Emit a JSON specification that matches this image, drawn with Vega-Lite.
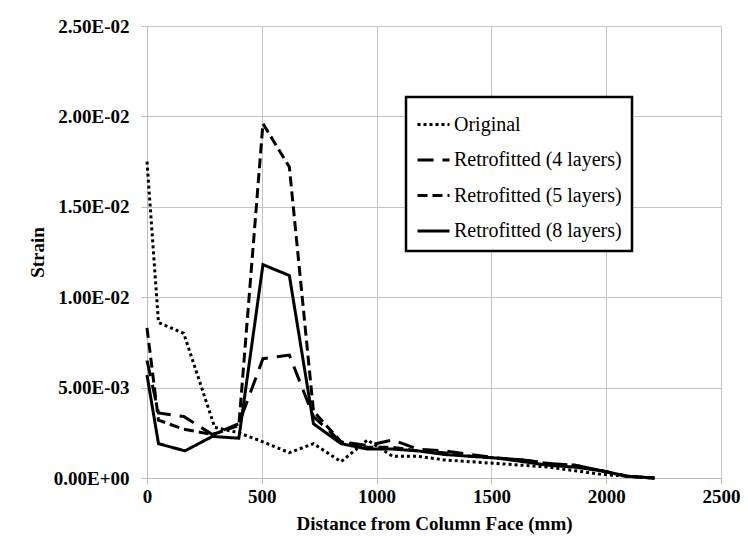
{
  "$schema": "https://vega.github.io/schema/vega-lite/v6.json",
  "width": 574,
  "height": 452,
  "autosize": {"type": "none"},
  "padding": {"left": 147, "top": 26, "right": 27, "bottom": 69},
  "background": "white",
  "data": {
    "values": [
      {"distance": 0, "strain": 0.0175, "series": "Original"},
      {"distance": 50, "strain": 0.0086, "series": "Original"},
      {"distance": 160, "strain": 0.0080, "series": "Original"},
      {"distance": 295, "strain": 0.0028, "series": "Original"},
      {"distance": 400, "strain": 0.0025, "series": "Original"},
      {"distance": 505, "strain": 0.0020, "series": "Original"},
      {"distance": 620, "strain": 0.0014, "series": "Original"},
      {"distance": 725, "strain": 0.0019, "series": "Original"},
      {"distance": 845, "strain": 0.0009, "series": "Original"},
      {"distance": 960, "strain": 0.0021, "series": "Original"},
      {"distance": 1070, "strain": 0.0012, "series": "Original"},
      {"distance": 1180, "strain": 0.0012, "series": "Original"},
      {"distance": 1295, "strain": 0.0010, "series": "Original"},
      {"distance": 1410, "strain": 0.0009, "series": "Original"},
      {"distance": 1525, "strain": 0.0008, "series": "Original"},
      {"distance": 1640, "strain": 0.0007, "series": "Original"},
      {"distance": 1750, "strain": 0.0006, "series": "Original"},
      {"distance": 1865, "strain": 0.0004, "series": "Original"},
      {"distance": 1980, "strain": 0.0002, "series": "Original"},
      {"distance": 2090, "strain": 0.0001, "series": "Original"},
      {"distance": 2210, "strain": 0.0000, "series": "Original"},

      {"distance": 0, "strain": 0.0065, "series": "Retrofitted (4 layers)"},
      {"distance": 50, "strain": 0.0036, "series": "Retrofitted (4 layers)"},
      {"distance": 160, "strain": 0.0034, "series": "Retrofitted (4 layers)"},
      {"distance": 285, "strain": 0.0024, "series": "Retrofitted (4 layers)"},
      {"distance": 400, "strain": 0.0030, "series": "Retrofitted (4 layers)"},
      {"distance": 505, "strain": 0.0066, "series": "Retrofitted (4 layers)"},
      {"distance": 620, "strain": 0.0068, "series": "Retrofitted (4 layers)"},
      {"distance": 725, "strain": 0.0034, "series": "Retrofitted (4 layers)"},
      {"distance": 845, "strain": 0.0020, "series": "Retrofitted (4 layers)"},
      {"distance": 960, "strain": 0.0018, "series": "Retrofitted (4 layers)"},
      {"distance": 1070, "strain": 0.0021, "series": "Retrofitted (4 layers)"},
      {"distance": 1180, "strain": 0.0016, "series": "Retrofitted (4 layers)"},
      {"distance": 1295, "strain": 0.0015, "series": "Retrofitted (4 layers)"},
      {"distance": 1410, "strain": 0.0013, "series": "Retrofitted (4 layers)"},
      {"distance": 1525, "strain": 0.0011, "series": "Retrofitted (4 layers)"},
      {"distance": 1640, "strain": 0.0010, "series": "Retrofitted (4 layers)"},
      {"distance": 1750, "strain": 0.0008, "series": "Retrofitted (4 layers)"},
      {"distance": 1865, "strain": 0.0007, "series": "Retrofitted (4 layers)"},
      {"distance": 1980, "strain": 0.0004, "series": "Retrofitted (4 layers)"},
      {"distance": 2090, "strain": 0.0001, "series": "Retrofitted (4 layers)"},
      {"distance": 2210, "strain": 0.0000, "series": "Retrofitted (4 layers)"},

      {"distance": 0, "strain": 0.0083, "series": "Retrofitted (5 layers)"},
      {"distance": 50, "strain": 0.0032, "series": "Retrofitted (5 layers)"},
      {"distance": 160, "strain": 0.0027, "series": "Retrofitted (5 layers)"},
      {"distance": 285, "strain": 0.0024, "series": "Retrofitted (5 layers)"},
      {"distance": 400, "strain": 0.0029, "series": "Retrofitted (5 layers)"},
      {"distance": 505, "strain": 0.0196, "series": "Retrofitted (5 layers)"},
      {"distance": 620, "strain": 0.0172, "series": "Retrofitted (5 layers)"},
      {"distance": 725, "strain": 0.0037, "series": "Retrofitted (5 layers)"},
      {"distance": 845, "strain": 0.0020, "series": "Retrofitted (5 layers)"},
      {"distance": 960, "strain": 0.0017, "series": "Retrofitted (5 layers)"},
      {"distance": 1070, "strain": 0.0017, "series": "Retrofitted (5 layers)"},
      {"distance": 1180, "strain": 0.0015, "series": "Retrofitted (5 layers)"},
      {"distance": 1295, "strain": 0.0014, "series": "Retrofitted (5 layers)"},
      {"distance": 1410, "strain": 0.0012, "series": "Retrofitted (5 layers)"},
      {"distance": 1525, "strain": 0.0011, "series": "Retrofitted (5 layers)"},
      {"distance": 1640, "strain": 0.0010, "series": "Retrofitted (5 layers)"},
      {"distance": 1750, "strain": 0.0008, "series": "Retrofitted (5 layers)"},
      {"distance": 1865, "strain": 0.0007, "series": "Retrofitted (5 layers)"},
      {"distance": 1980, "strain": 0.0004, "series": "Retrofitted (5 layers)"},
      {"distance": 2090, "strain": 0.0001, "series": "Retrofitted (5 layers)"},
      {"distance": 2210, "strain": 0.0000, "series": "Retrofitted (5 layers)"},

      {"distance": 0, "strain": 0.0057, "series": "Retrofitted (8 layers)"},
      {"distance": 50, "strain": 0.0019, "series": "Retrofitted (8 layers)"},
      {"distance": 165, "strain": 0.0015, "series": "Retrofitted (8 layers)"},
      {"distance": 285, "strain": 0.0023, "series": "Retrofitted (8 layers)"},
      {"distance": 400, "strain": 0.0022, "series": "Retrofitted (8 layers)"},
      {"distance": 505, "strain": 0.0118, "series": "Retrofitted (8 layers)"},
      {"distance": 620, "strain": 0.0112, "series": "Retrofitted (8 layers)"},
      {"distance": 725, "strain": 0.0030, "series": "Retrofitted (8 layers)"},
      {"distance": 845, "strain": 0.0019, "series": "Retrofitted (8 layers)"},
      {"distance": 960, "strain": 0.0016, "series": "Retrofitted (8 layers)"},
      {"distance": 1070, "strain": 0.0016, "series": "Retrofitted (8 layers)"},
      {"distance": 1180, "strain": 0.0015, "series": "Retrofitted (8 layers)"},
      {"distance": 1295, "strain": 0.0013, "series": "Retrofitted (8 layers)"},
      {"distance": 1410, "strain": 0.0012, "series": "Retrofitted (8 layers)"},
      {"distance": 1525, "strain": 0.0011, "series": "Retrofitted (8 layers)"},
      {"distance": 1640, "strain": 0.0009, "series": "Retrofitted (8 layers)"},
      {"distance": 1750, "strain": 0.0007, "series": "Retrofitted (8 layers)"},
      {"distance": 1865, "strain": 0.0006, "series": "Retrofitted (8 layers)"},
      {"distance": 1980, "strain": 0.0004, "series": "Retrofitted (8 layers)"},
      {"distance": 2090, "strain": 0.0001, "series": "Retrofitted (8 layers)"},
      {"distance": 2210, "strain": 0.0000, "series": "Retrofitted (8 layers)"}
    ]
  },
  "mark": {"type": "line", "color": "black", "strokeWidth": 3, "strokeCap": "butt", "strokeJoin": "miter"},
  "encoding": {
    "x": {
      "field": "distance",
      "type": "quantitative",
      "scale": {"domain": [0, 2500], "nice": false, "zero": true},
      "axis": {
        "values": [0, 500, 1000, 1500, 2000, 2500],
        "format": "d",
        "title": "Distance from Column Face (mm)",
        "labelPadding": 3,
        "titlePadding": 8,
        "labelFlush": false
      }
    },
    "y": {
      "field": "strain",
      "type": "quantitative",
      "scale": {"domain": [0, 0.025], "nice": false},
      "axis": {
        "values": [0, 0.005, 0.01, 0.015, 0.02, 0.025],
        "labelExpr": "replace(replace(format(datum.value, '.2e'), 'e-', 'E-0'), 'e+', 'E+0')",
        "title": "Strain",
        "labelPadding": 12,
        "titlePadding": 6
      }
    },
    "strokeDash": {
      "field": "series",
      "type": "nominal",
      "scale": {
        "domain": ["Original", "Retrofitted (4 layers)", "Retrofitted (5 layers)", "Retrofitted (8 layers)"],
        "range": [[3, 3], [16, 9], [10, 5], [1, 0]]
      },
      "legend": {
        "title": null,
        "orient": "none",
        "legendX": 259,
        "legendY": 71,
        "labelFont": "Liberation Serif",
        "labelFontSize": 20,
        "rowPadding": 7.5,
        "padding": 10,
        "encode": {
          "labels": {"update": {"font": {"value": "Liberation Serif"}, "fontSize": {"value": 20}, "fontWeight": {"value": "normal"}}}
        }
      }
    }
  },
  "config": {
    "view": {"stroke": null},
    "font": "Liberation Serif",
    "axis": {
      "labelFont": "Liberation Serif",
      "labelFontSize": 19,
      "labelFontWeight": "bold",
      "labelColor": "black",
      "titleFont": "Liberation Serif",
      "titleFontSize": 19,
      "titleFontWeight": "bold",
      "titleColor": "black",
      "domainColor": "#bdbdbd",
      "domainWidth": 1,
      "tickColor": "#bdbdbd",
      "tickSize": 6,
      "gridColor": "#c4c4c4",
      "gridWidth": 1,
      "grid": true
    },
    "legend": {
      "labelFont": "Liberation Serif",
      "labelFontSize": 20,
      "labelColor": "black",
      "labelOffset": 3,
      "labelLimit": 400,
      "symbolType": "stroke",
      "symbolSize": 1024,
      "symbolStrokeWidth": 3,
      "symbolStrokeColor": "black",
      "strokeColor": "black",
      "strokeWidth": 2.5,
      "fillColor": "white"
    }
  }
}
